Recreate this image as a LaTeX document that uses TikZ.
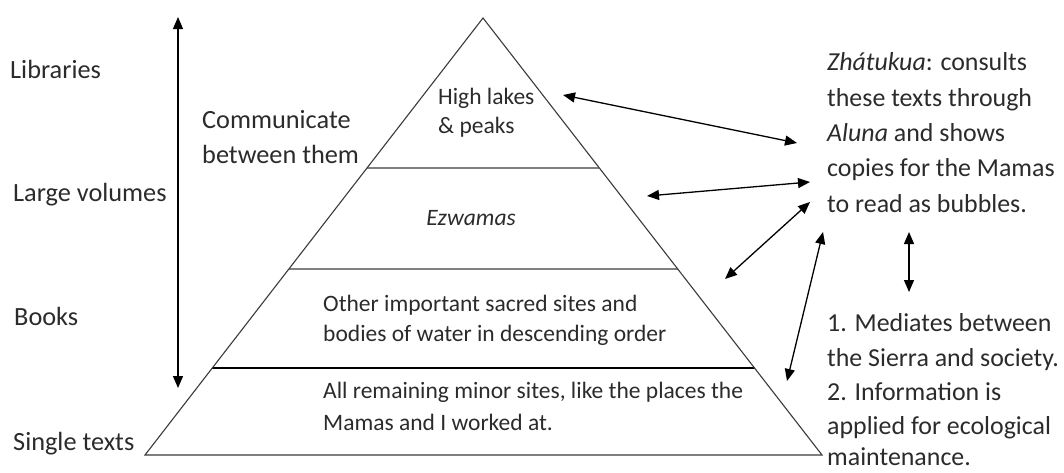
\documentclass[tikz,border=0pt]{standalone}
\usepackage{fontspec}
\setmainfont{Carlito}
\usetikzlibrary{arrows.meta,calc}
\definecolor{txt}{HTML}{2B2B2B}
\definecolor{midgray}{HTML}{808080}
\definecolor{edge}{HTML}{3A3A3A}
\tikzset{
  lbl/.style={anchor=base west,inner sep=0pt,text=txt,font=\fontsize{26.3}{30}\selectfont},
  rlbl/.style={anchor=base west,inner sep=0pt,text=txt,font=\fontsize{25.9}{30}\selectfont},
  plbl/.style={anchor=base west,inner sep=0pt,text=txt,font=\fontsize{23.5}{30}\selectfont},
  dbl/.style={line width=1.3pt,black,{Triangle[length=12pt,width=10pt]}-{Triangle[length=12pt,width=10pt]}},
  grayline/.style={line width=2.2pt,midgray},
  outline/.style={line width=1.1pt,edge}
}
\begin{document}
\begin{tikzpicture}[x=1pt,y=-1pt]
\useasboundingbox (0,0) rectangle (1064,472);
% pyramid
\coordinate (A) at (483,18);
\coordinate (L) at (145,455);
\coordinate (R) at (822,455);
\draw[grayline] ($(A)!0.3432!(L)$) coordinate (l1a) -- ($(A)!0.3432!(R)$) coordinate (l1b);
\draw[grayline] ($(A)!0.5744!(L)$) coordinate (l2a) -- ($(A)!0.5744!(R)$) coordinate (l2b);
\draw[line width=1.3pt,black] ($(A)!0.8009!(L)$) coordinate (l3a) -- ($(A)!0.8009!(R)$) coordinate (l3b);
\draw[outline] (A) -- (L) -- (R) -- cycle;
% left labels
\node[lbl] (lib) at (10,78) {Libraries};
\node[lbl] (large) at (13,201) {Large volumes};
\node[lbl] (books) at (14,325) {Books};
\node[lbl] (single) at (13,450) {Single texts};
\coordinate (vt) at (178,17);
\coordinate (vb) at (178,388);
\draw[dbl] (vt) -- (vb);
\node[lbl] (comm1) at (202,128) {Communicate};
\node[lbl] (comm2) at (202,163) {between them};
% pyramid texts
\node[plbl] (hl1) at (438,104) {High lakes};
\node[plbl] (hl2) at (438,133) {\& peaks};
\node[plbl,anchor=base] (ezw) at (471,225) {\itshape Ezwamas};
\node[plbl] (ot1) at (323,311) {Other important sacred sites and};
\node[plbl] (ot2) at (323,341) {bodies of water in descending order};
\node[plbl] (al1) at (323,398) {All remaining minor sites, like the places the};
\node[plbl] (al2) at (323,430) {Mamas and I worked at.};
% right texts
\node[rlbl] (z1) at (827,70) {\textit{Zhátukua}: consults};
\node[rlbl] (z2) at (827,106) {these texts through};
\node[rlbl] (z3) at (827,141) {\textit{Aluna} and shows};
\node[rlbl] (z4) at (827,176) {copies for the Mamas};
\node[rlbl] (z5) at (827,212) {to read as bubbles.};
\node[rlbl] (m1) at (827,331) {1. Mediates between};
\node[rlbl] (m2) at (827,366) {the Sierra and society.};
\node[rlbl] (m3) at (827,400) {2. Information is};
\node[rlbl] (m4) at (827,434) {applied for ecological};
\node[rlbl] (m5) at (827,465) {maintenance.};
% arrows
\coordinate (a1s) at (563,95);   \coordinate (a1e) at (797,143);
\coordinate (a2s) at (647,196);  \coordinate (a2e) at (810,182);
\coordinate (a3s) at (725,279);  \coordinate (a3e) at (810,202);
\coordinate (a4s) at (787,381);  \coordinate (a4e) at (823,232);
\coordinate (a5s) at (909,232);  \coordinate (a5e) at (909,292);
\draw[dbl] (a1s) -- (a1e);
\draw[dbl] (a2s) -- (a2e);
\draw[dbl] (a3s) -- (a3e);
\draw[dbl] (a4s) -- (a4e);
\draw[dbl] (a5s) -- (a5e);
\end{tikzpicture}
\end{document}
